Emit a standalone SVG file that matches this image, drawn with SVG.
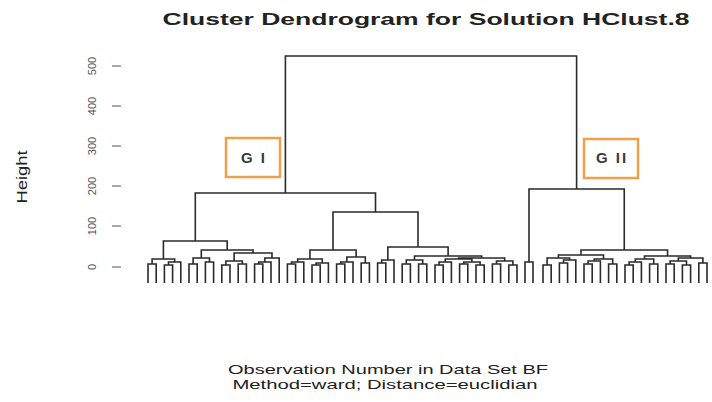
<svg xmlns="http://www.w3.org/2000/svg" width="712" height="402" viewBox="0 0 712 402">
<style>
.t{font-family:"Liberation Sans",Arial,sans-serif;fill:#222}
.tick{stroke:#555;stroke-width:1}
.tl{font-family:"Liberation Sans",Arial,sans-serif;font-size:11px;fill:#555;text-anchor:middle}
.d{fill:none;stroke:#2a2a2a;stroke-width:1.6}
.box{fill:none;stroke:#F0A04B;stroke-width:2.5}
.gl{font-family:"Liberation Sans",Arial,sans-serif;font-size:15px;font-weight:bold;fill:#3a3a3a;text-anchor:middle;letter-spacing:2px}
</style>
<rect width="712" height="402" fill="#fff"/>
<text class="t" x="426" y="25" font-size="16" font-weight="bold" text-anchor="middle" textLength="527" lengthAdjust="spacingAndGlyphs">Cluster Dendrogram for Solution HClust.8</text>
<g id="axis">
<line class="tick" x1="112" y1="66" x2="121" y2="66"/>
<line class="tick" x1="112" y1="106" x2="121" y2="106"/>
<line class="tick" x1="112" y1="146" x2="121" y2="146"/>
<line class="tick" x1="112" y1="186" x2="121" y2="186"/>
<line class="tick" x1="112" y1="226" x2="121" y2="226"/>
<line class="tick" x1="112" y1="267" x2="121" y2="267"/>
<text class="tl" transform="translate(96,66) rotate(-90)">500</text>
<text class="tl" transform="translate(96,106) rotate(-90)">400</text>
<text class="tl" transform="translate(96,146) rotate(-90)">300</text>
<text class="tl" transform="translate(96,186) rotate(-90)">200</text>
<text class="tl" transform="translate(96,226) rotate(-90)">100</text>
<text class="tl" transform="translate(96,267) rotate(-90)">0</text>
<text class="t" transform="translate(27,177) rotate(-90)" font-size="14" text-anchor="middle" textLength="53" lengthAdjust="spacingAndGlyphs">Height</text>
</g>
<g id="connectors">
<path class="d" d="M285.4 193 V56 H576.6 V189"/>
<path class="d" d="M195.3 241 V193 H375.5 V212"/>
<path class="d" d="M163.4 259 V241 H227.2 V250"/>
<path class="d" d="M148 283 V264 H156.2 V283 M164.4 283 V265 H172.6 V283 M168.5 265 V262 H180.8 V283 M152.1 264 V259 H174.65 V262"/>
<path class="d" d="M201.3 258 V250 H253.05 V253"/>
<path class="d" d="M189 283 V264 H197.2 V283 M205.4 283 V262 H213.6 V283 M193.1 264 V258 H209.5 V262"/>
<path class="d" d="M221.8 283 V265 H230 V283 M238.2 283 V264 H246.4 V283 M225.9 265 V261 H242.3 V264 M254.6 283 V264 H262.8 V283 M258.7 264 V262 H271 V283 M264.85 262 V258 H279.2 V283 M234.1 261 V253 H272 V258"/>
<path class="d" d="M333 250 V212 H418 V247"/>
<path class="d" d="M309.95 259 V250 H356.1 V257"/>
<path class="d" d="M287.4 283 V264 H295.6 V283 M291.5 264 V262 H303.8 V283 M312 283 V265 H320.2 V283 M316.1 265 V263 H328.4 V283 M297.65 262 V259 H322.25 V263"/>
<path class="d" d="M336.6 283 V264 H344.8 V283 M340.7 264 V262 H353 V283 M361.2 283 V263 H369.4 V283 M346.85 262 V257 H365.3 V263"/>
<path class="d" d="M387.85 260 V247 H448.1 V256"/>
<path class="d" d="M377.6 283 V263 H385.8 V283 M381.7 263 V260 H394 V283"/>
<path class="d" d="M402.2 283 V264 H410.4 V283 M418.6 283 V264 H426.8 V283 M406.3 264 V260 H422.7 V264 M414.5 260 V256 H481.65 V258"/>
<path class="d" d="M435 283 V265 H443.2 V283 M439.1 265 V262 H451.4 V283 M459.6 283 V264 H467.8 V283 M476 283 V265 H484.2 V283 M463.7 264 V262 H480.1 V265 M445.25 262 V259 H471.9 V262 M492.4 283 V264 H500.6 V283 M508.8 283 V265 H517 V283 M496.5 264 V261 H512.9 V265 M458.6 259 V258 H504.7 V261"/>
<path class="d" d="M529 262 V189 H624.25 V250"/>
<path class="d" d="M525 283 V262 H533 V283"/>
<path class="d" d="M580.95 255 V250 H667.55 V256"/>
<path class="d" d="M543 283 V265 H551.2 V283 M559.4 283 V263 H567.6 V283 M563.5 263 V260 H575.8 V283 M547.1 265 V258 H569.65 V260 M584 283 V264 H592.2 V283 M588.1 264 V261 H600.4 V283 M608.6 283 V264 H616.8 V283 M594.25 261 V259 H612.7 V264 M558.4 258 V255 H603.5 V259"/>
<path class="d" d="M625 283 V265 H633.2 V283 M629.1 265 V262 H641.4 V283 M649.6 283 V264 H657.8 V283 M635.25 262 V259 H653.7 V264 M666 283 V264 H674.2 V283 M682.4 283 V265 H690.6 V283 M670.1 264 V261 H686.5 V265 M698.8 283 V263 H707 V283 M678.3 261 V258 H702.9 V263 M644.5 259 V256 H690.6 V258"/>
</g>
<g id="GI">
<rect class="box" x="226" y="138" width="54" height="39"/>
<text class="gl" x="254" y="163">G I</text>
</g>
<g id="GII">
<rect class="box" x="584" y="139" width="54" height="39"/>
<text class="gl" x="612" y="163">G II</text>
</g>
<text class="t" x="388" y="374" font-size="13" text-anchor="middle" textLength="320" lengthAdjust="spacingAndGlyphs" fill="#333">Observation Number in Data Set BF</text>
<text class="t" x="385" y="389" font-size="13" text-anchor="middle" textLength="305" lengthAdjust="spacingAndGlyphs" fill="#333">Method=ward; Distance=euclidian</text>
</svg>
